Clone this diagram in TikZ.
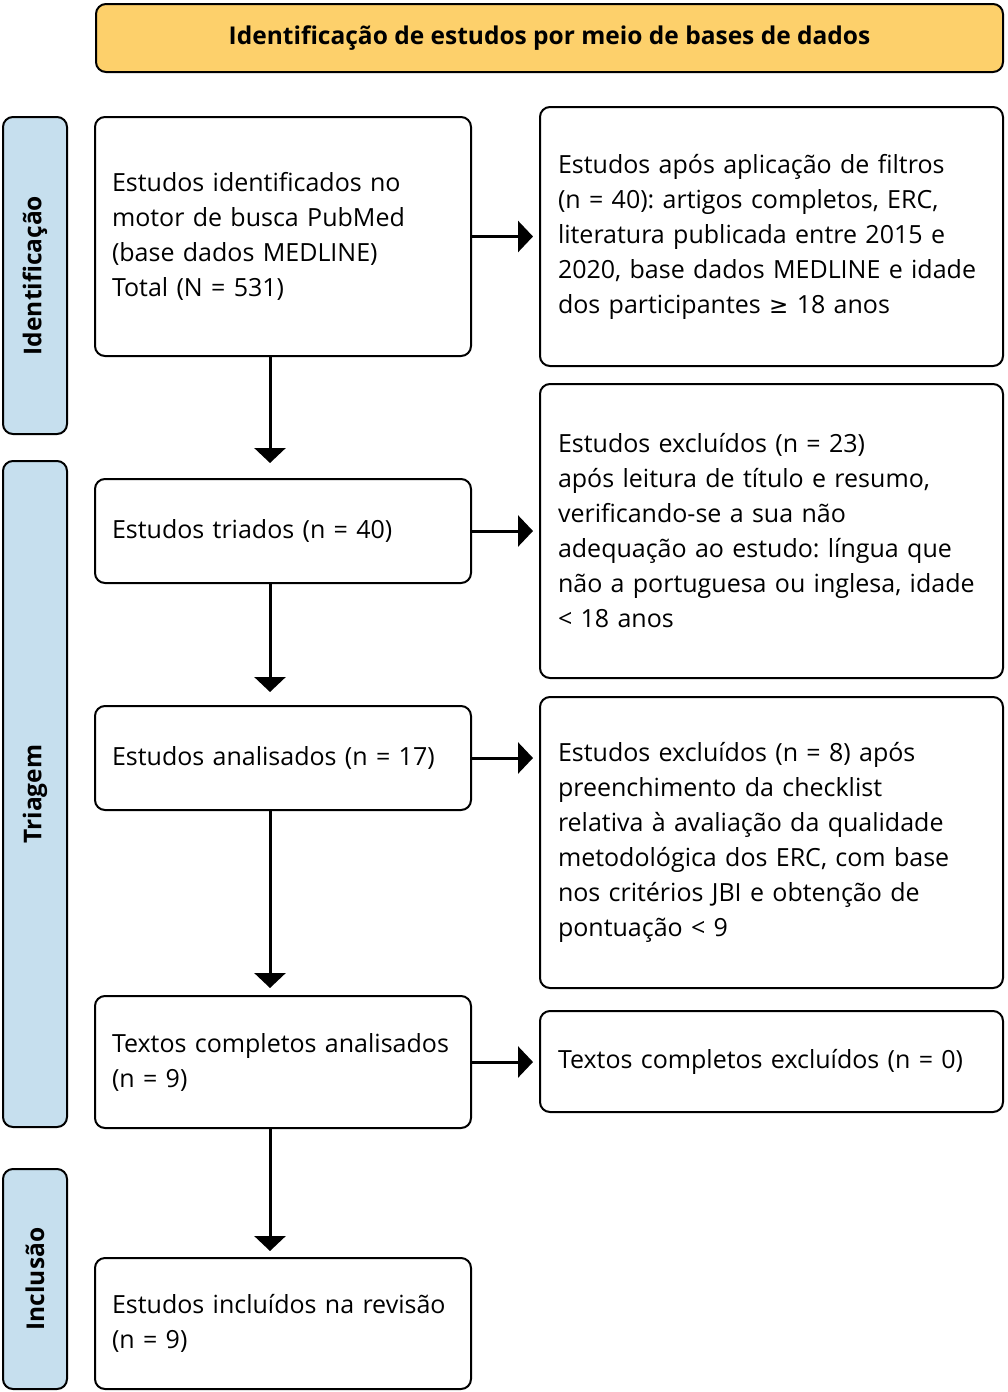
\documentclass[tikz,border=0pt]{standalone}
\usepackage{fontspec}
\setmainfont{Open Sans}
\newfontfamily\symf{DejaVu Sans}
\frenchspacing
\usetikzlibrary{arrows.meta,calc}
\definecolor{hdrc}{HTML}{FDD06B}
\definecolor{sidec}{HTML}{C6DFEE}
\begin{document}
\begin{tikzpicture}[x=1pt,y=-1pt,
  box/.style={draw=black, line width=2pt, rounded corners=10pt, inner ysep=0pt,
    align=left, font=\fontsize{25}{35}\selectfont},
  lbox/.style={box, inner xsep=17pt, text width=342pt, minimum height=#1},
  rbox/.style={box, inner xsep=18pt, text width=427pt, minimum height=#1},
  sidebox/.style={draw=black, line width=2pt, fill=sidec, rounded corners=10pt,
    rotate=90, minimum height=64pt, minimum width=#1, inner sep=0pt,
    font=\fontsize{24.5}{30}\selectfont\bfseries},
  arr/.style={line width=3pt, -{Triangle[length=15pt,width=31pt]}}
]
\useasboundingbox (0,0) rectangle (1007,1392);

\node[draw=black, line width=2pt, fill=hdrc, rounded corners=10pt,
  minimum width=907pt, minimum height=68pt, inner sep=0pt,
  font=\fontsize{24.5}{30}\selectfont\bfseries] (hdr) at (549.5,38)
  {Identificação de estudos por meio de bases de dados};

\node[sidebox=317pt] (s1) at (35,275.5) {Identificação};
\node[sidebox=666pt] (s2) at (35,794) {Triagem};
\node[sidebox=220pt] (s3) at (35,1279) {Inclusão};

\node[lbox=239pt] (b1) at (283,236.5)
  {\mbox{Estudos identificados no}\\\mbox{motor de busca PubMed}\\\mbox{(base dados MEDLINE)}\\\mbox{Total (N = 531)}};
\node[lbox=104pt] (b2) at (283,531) {\mbox{Estudos triados (n = 40)}};
\node[lbox=104pt] (b3) at (283,758) {\mbox{Estudos analisados (n = 17)}};
\node[lbox=132pt] (b4) at (283,1062)
  {\mbox{Textos completos analisados}\\\mbox{(n = 9)}};
\node[lbox=131pt] (b5) at (283,1323.5)
  {\mbox{Estudos incluídos na revisão}\\\mbox{(n = 9)}};

\node[rbox=259pt] (r1) at (771.5,236.5)
  {\mbox{Estudos após aplicação de filtros}\\\mbox{(n = 40): artigos completos, ERC,}\\\mbox{literatura publicada entre 2015 e}\\\mbox{2020, base dados MEDLINE e idade}\\\mbox{dos participantes {\symf\fontsize{23}{30}\selectfont ≥} 18 anos}};
\node[rbox=294pt] (r2) at (771.5,531)
  {\mbox{Estudos excluídos (n = 23)}\\\mbox{após leitura de título e resumo,}\\\mbox{verificando-se a sua não}\\\mbox{adequação ao estudo: língua que}\\\mbox{não a portuguesa ou inglesa, idade}\\\mbox{< 18 anos}};
\node[rbox=291pt] (r3) at (771.5,842.5)
  {\mbox{Estudos excluídos (n = 8) após}\\\mbox{preenchimento da checklist}\\\mbox{relativa à avaliação da qualidade}\\\mbox{metodológica dos ERC, com base}\\\mbox{nos critérios JBI e obtenção de}\\\mbox{pontuação < 9}};
\node[rbox=101pt] (r4) at (771.5,1061.5) {\mbox{Textos completos excluídos (n = 0)}};

\draw[arr, shorten >=15pt] ([xshift=-13pt]b1.south) -- ([xshift=-13pt]b2.north);
\draw[arr, shorten >=13pt] ([xshift=-13pt]b2.south) -- ([xshift=-13pt]b3.north);
\draw[arr, shorten >=7pt] ([xshift=-13pt]b3.south) -- ([xshift=-13pt]b4.north);
\draw[arr, shorten >=6pt] ([xshift=-13pt]b4.south) -- ([xshift=-13pt]b5.north);

\draw[arr, shorten >=6pt] (b1.east) -- (b1.east -| r1.west);
\draw[arr, shorten >=6pt] (b2.east) -- (b2.east -| r2.west);
\draw[arr, shorten >=6pt] (b3.east) -- (b3.east -| r3.west);
\draw[arr, shorten >=6pt] (b4.east) -- (b4.east -| r4.west);
\end{tikzpicture}
\end{document}
